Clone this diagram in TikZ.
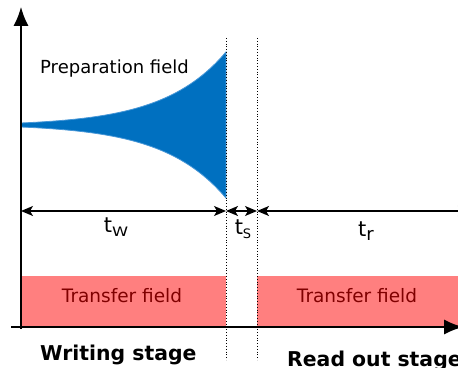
\documentclass[tikz,border=0pt]{standalone}
\usepackage{fontspec}
\setmainfont{DejaVu Sans}
\usetikzlibrary{arrows.meta}
\definecolor{prepblue}{RGB}{0,112,192}
\definecolor{prepedge}{RGB}{70,150,215}
\definecolor{transred}{RGB}{255,127,127}
\definecolor{transtext}{RGB}{128,0,0}
\tikzset{
  axis/.style={line width=1.4pt, -{Latex[length=19pt,width=15pt]}},
  dimline/.style={line width=1.3pt, {Stealth[length=12pt,width=10pt,inset=3pt]}-{Stealth[length=12pt,width=10pt,inset=3pt]}},
  sep/.style={line width=0.8pt, dotted},
  transbox/.style={fill=transred, draw=none},
  translabel/.style={text=transtext, font=\fontsize{18.5}{21}\selectfont, anchor=base, inner sep=0pt},
  dimlabel/.style={font=\fontsize{21}{23}\selectfont, anchor=base, inner sep=0pt},
  stagelabel/.style={font=\bfseries\fontsize{20.4}{23}\selectfont, anchor=base west, inner sep=0pt},
  declare function={amp(\t)=2+71*(exp(0.016*(\t-21))-1)/(exp(3.28)-1);}
}
\newcommand{\subtxt}[2]{\raisebox{-3.5pt}{\fontsize{#1}{#1}\selectfont #2}}
\begin{document}
\begin{tikzpicture}[x=1pt,y=1pt]
\useasboundingbox (0,0) rectangle (458,367);
\clip (0,0) rectangle (458,367);
% transfer field boxes
\fill[transbox] (21,40) rectangle (226,91);
\fill[transbox] (257,40) rectangle (470,91);
\node[translabel] (tf1) at (122,64) {Transfer field};
\node[translabel] (tf2) at (357,64) {Transfer field};
% preparation field envelope
\fill[prepblue, draw=prepedge, line width=0.8pt]
  plot[domain=21:226, samples=120] (\x, {242+amp(\x)})
  -- plot[domain=226:21, samples=120] (\x, {242-amp(\x)}) -- cycle;
\node[font=\fontsize{18}{21}\selectfont, anchor=base west, inner sep=0pt] (prep) at (40,293) {Preparation field};
% axes
\coordinate (ybot) at (21,38);
\coordinate (ytop) at (21,360);
\coordinate (xl) at (11,40);
\coordinate (xr) at (463,40);
\draw[axis] (ybot) -- (ytop);
\draw[axis] (xl) -- (xr);
% separators
\coordinate (s1t) at (226,329); \coordinate (s1b) at (226,7);
\coordinate (s2t) at (257,329); \coordinate (s2b) at (257,7);
\draw[sep] (s1t) -- (s1b);
\draw[sep] (s2t) -- (s2b);
% dimension lines
\coordinate (d0) at (21,156);
\coordinate (d1) at (226,156);
\coordinate (d2) at (257,156);
\coordinate (d3) at (470,156);
\draw[dimline] (d0) -- (d1);
\draw[dimline] (d1) -- (d2);
\draw[dimline] (d2) -- (d3);
\node[dimlabel] (tw) at (116,134) {t\subtxt{13}{\scalebox{1.25}[1]{W}}};
\node[dimlabel] (ts) at (243,132) {t\subtxt{13}{S}};
\node[dimlabel] (tr) at (366,130) {t\subtxt{18}{r}};
% stage labels
\node[stagelabel] (ws) at (40,7) {Writing stage};
\node[stagelabel] (rs) at (287,1) {Read out stage};
\end{tikzpicture}
\end{document}
